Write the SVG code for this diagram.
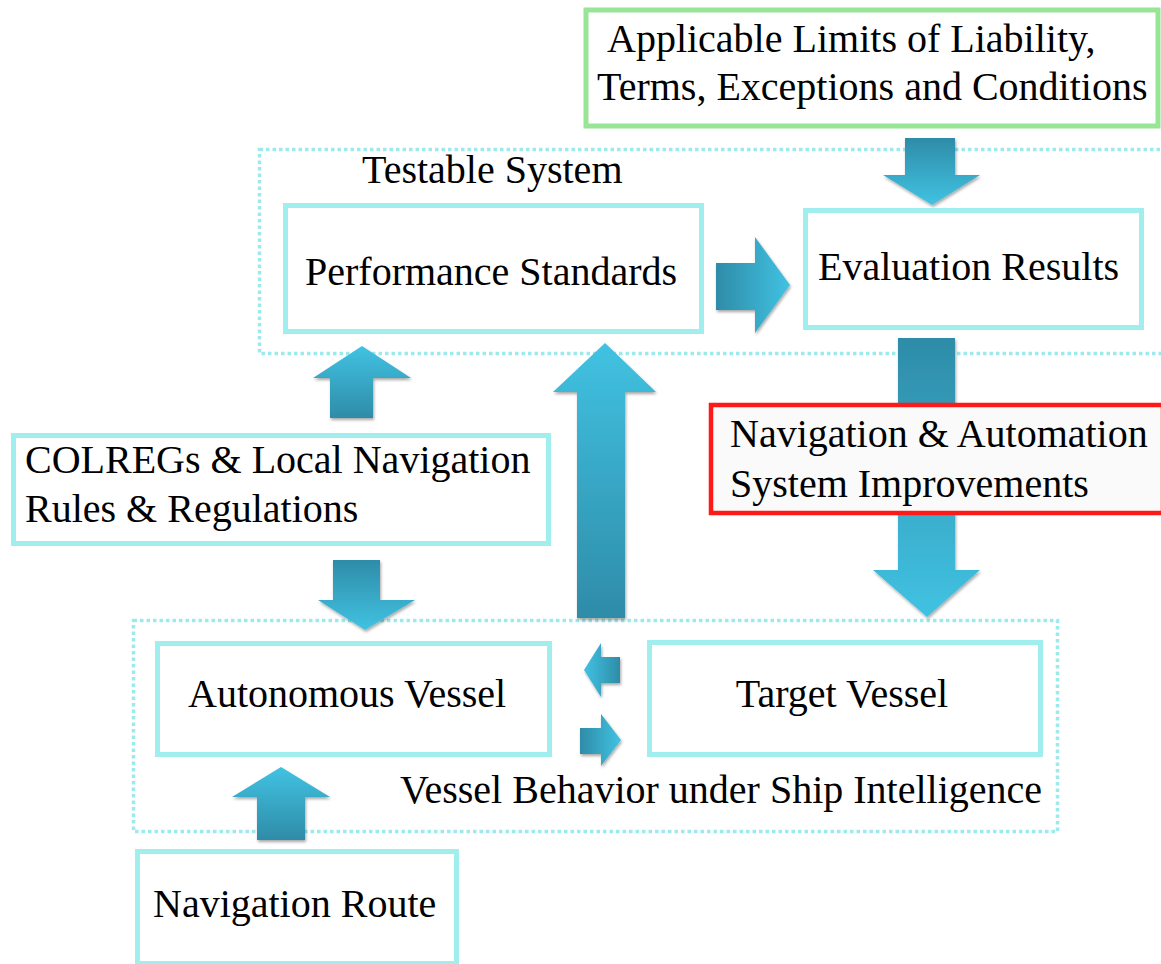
<svg xmlns="http://www.w3.org/2000/svg" width="1161" height="964" viewBox="0 0 1161 964">
<style>
.box{fill:#ffffff;stroke:#a0eeee;stroke-width:5}
.grp{fill:none;stroke:#9ce9ee;stroke-width:3.5;stroke-dasharray:3.5 3}
.t{font-family:"Liberation Serif","Times New Roman",serif;font-size:40px;fill:#000}
.arr{filter:url(#sh)}
</style>
<defs>
<linearGradient id="gUp" x1="0" y1="1" x2="0" y2="0"><stop offset="0" stop-color="#2e8ca8"/><stop offset="1" stop-color="#41c2e2"/></linearGradient>
<linearGradient id="gDown" x1="0" y1="0" x2="0" y2="1"><stop offset="0" stop-color="#2e8ca8"/><stop offset="1" stop-color="#41c2e2"/></linearGradient>
<linearGradient id="gRight" x1="0" y1="0" x2="1" y2="0"><stop offset="0" stop-color="#2e8ca8"/><stop offset="1" stop-color="#41c2e2"/></linearGradient>
<linearGradient id="gLeft" x1="1" y1="0" x2="0" y2="0"><stop offset="0" stop-color="#2e8ca8"/><stop offset="1" stop-color="#41c2e2"/></linearGradient>
<filter id="sh" x="-20%" y="-20%" width="140%" height="140%"><feDropShadow dx="1" dy="2" stdDeviation="1.5" flood-color="#000" flood-opacity="0.35"/></filter>
</defs>

<g id="group-testable">
<rect class="grp" x="259.5" y="149.5" width="905" height="204"/>
<text class="t" x="362" y="183">Testable System</text>
</g>
<g id="group-vessel">
<rect class="grp" x="133.5" y="620.5" width="924" height="211"/>
<text class="t" x="400" y="803">Vessel Behavior under Ship Intelligence</text>
</g>

<g id="connectors">
<path class="arr" fill="url(#gDown)" d="M905,138 H955 V175 H980 L932,205 L883,175 H905 Z"/>
<path class="arr" fill="url(#gRight)" d="M716,263 H755 V237 L790,285 L755,333 V310 H716 Z"/>
<path class="arr" fill="url(#gDown)" d="M898,338 H955 V570 H980 L927,617 L873,570 H898 Z"/>
<path class="arr" fill="url(#gUp)" d="M330,418 V378 H313 L362,346 L411,378 H373 V418 Z"/>
<path class="arr" fill="url(#gDown)" d="M333,560 H380 V600 H415 L365,630 L318,600 H333 Z"/>
<path class="arr" fill="url(#gUp)" d="M577,618 V392 H553 L605,343 L656,392 H625 V618 Z"/>
<path class="arr" fill="url(#gLeft)" d="M620,657 V683 H601 V697 L584,670 L601,643 V657 Z"/>
<path class="arr" fill="url(#gRight)" d="M580,728 H601 V714 L621,740 L601,766 V754 H580 Z"/>
<path class="arr" fill="url(#gUp)" d="M257,840 V797 H232 L281,767 L330,797 H305 V840 Z"/>
</g>

<g id="node-liability">
<rect x="586" y="10" width="572" height="116" fill="#ffffff" stroke="#98e596" stroke-width="5"/>
<text class="t" x="607" y="52">Applicable Limits of Liability,</text>
<text class="t" x="597" y="100">Terms, Exceptions and Conditions</text>
</g>
<g id="node-performance">
<rect class="box" x="285.5" y="205.5" width="416" height="126"/>
<text class="t" x="305" y="285">Performance Standards</text>
</g>
<g id="node-evaluation">
<rect class="box" x="805.5" y="210.5" width="336" height="117"/>
<text class="t" x="818" y="280">Evaluation Results</text>
</g>
<g id="node-improvements">
<rect x="711" y="405" width="452" height="108" fill="#fafafa" stroke="#ff1a1a" stroke-width="4.5"/>
<text class="t" x="730" y="447">Navigation &amp; Automation</text>
<text class="t" x="730" y="497">System Improvements</text>
</g>
<g id="node-colregs">
<rect class="box" x="13.5" y="435.5" width="535" height="108"/>
<text class="t" x="25" y="473">COLREGs &amp; Local Navigation</text>
<text class="t" x="25" y="522">Rules &amp; Regulations</text>
</g>
<g id="node-autonomous">
<rect class="box" x="157.5" y="643.5" width="392" height="111"/>
<text class="t" x="188" y="707">Autonomous Vessel</text>
</g>
<g id="node-target">
<rect class="box" x="649.5" y="642.5" width="391" height="112"/>
<text class="t" x="842" y="707" text-anchor="middle">Target Vessel</text>
</g>
<g id="node-route">
<rect class="box" x="137.5" y="851.5" width="319" height="112"/>
<text class="t" x="153" y="917">Navigation Route</text>
</g>
</svg>
